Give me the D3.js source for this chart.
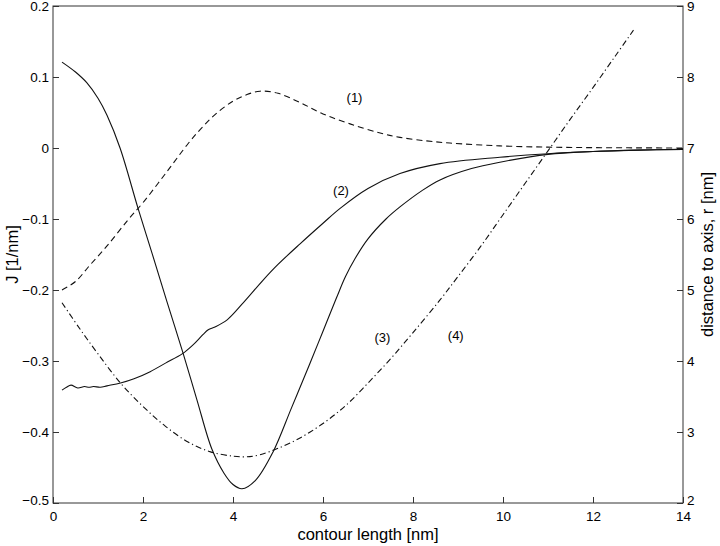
<!DOCTYPE html>
<html>
<head>
<meta charset="utf-8">
<script src="https://cdn.jsdelivr.net/npm/d3@7"></script>
<style>
  body { margin: 0; background: #fff; }
  text { font-family: "Liberation Sans", Arial, Helvetica, sans-serif; fill: #000; }
</style>
</head>
<body>
<div id="container"></div>
<script>
// Datos

const curve1X = [0.2, 0.5, 0.82, 1.2, 1.67, 2.0, 2.5, 3.0, 3.3, 3.6, 4.0, 4.3, 4.6, 5.0, 5.49, 6.0, 6.6, 7.27, 7.71, 8.3, 8.82, 9.93, 11, 12, 13, 14];
const curve1J = [-0.200, -0.188, -0.165, -0.138, -0.101, -0.077, -0.036, 0.006, 0.028, 0.047, 0.066, 0.075, 0.080, 0.077, 0.064, 0.048, 0.034, 0.021, 0.015, 0.010, 0.007, 0.003, 0.0012, 0.0005, 0.0002, 0];

const curve2X = [0.2, 0.3, 0.4, 0.55, 0.7, 0.8, 0.9, 1.05, 1.2, 1.5, 1.8, 2.16, 2.5, 2.87, 3.1, 3.33, 3.45, 3.6, 3.87, 4.2, 4.67, 5.0, 5.49, 6.0, 6.38, 7.0, 7.71, 8.6, 9.93, 11, 12, 13, 14];
const curve2J = [-0.341, -0.337, -0.334, -0.338, -0.336, -0.337, -0.336, -0.337, -0.335, -0.331, -0.325, -0.315, -0.303, -0.290, -0.278, -0.263, -0.256, -0.252, -0.242, -0.220, -0.186, -0.164, -0.135, -0.106, -0.085, -0.057, -0.036, -0.022, -0.013, -0.008, -0.005, -0.003, -0.002];

const curve3X = [0.2, 0.5, 0.75, 1.0, 1.2, 1.49, 1.89, 2.2, 2.53, 2.89, 3.2, 3.53, 3.8, 4.0, 4.2, 4.5, 4.89, 5.3, 5.7, 6.0, 6.3, 6.5, 6.71, 7.0, 7.4, 7.71, 8.2, 8.6, 9.3, 9.93, 11, 12, 13, 14];
const curve3J = [0.121, 0.107, 0.092, 0.070, 0.046, 0.0, -0.085, -0.148, -0.216, -0.289, -0.355, -0.424, -0.458, -0.474, -0.480, -0.468, -0.428, -0.366, -0.305, -0.258, -0.211, -0.181, -0.156, -0.128, -0.100, -0.083, -0.060, -0.045, -0.029, -0.020, -0.009, -0.005, -0.003, -0.002];

const curve4X = [0.2, 0.6, 1.0, 1.5, 2.0, 2.5, 3.0, 3.5, 4.0, 4.3, 4.6, 5.0, 5.5, 6.0, 6.5, 7.0, 7.5, 8.0, 8.6, 9.0, 9.5, 10.0, 10.5, 11.0, 11.5, 12.0, 12.5, 12.9];
const curve4R = [4.82, 4.45, 4.10, 3.69, 3.36, 3.08, 2.86, 2.72, 2.66, 2.65, 2.68, 2.77, 2.92, 3.12, 3.37, 3.69, 4.03, 4.40, 4.86, 5.19, 5.61, 6.06, 6.51, 6.96, 7.41, 7.85, 8.30, 8.66];

const ticksX = [0, 2, 4, 6, 8, 10, 12, 14];
const ticksJ = [-0.5, -0.4, -0.3, -0.2, -0.1, 0, 0.1, 0.2];
const ticksR = [2, 3, 4, 5, 6, 7, 8, 9];

const curveLabels = ["(1)", "(2)", "(3)", "(4)"];
const labelX = [6.7, 6.4, 7.32, 8.95];
const labelJ = [0.07, -0.062, -0.268, -0.265];

// Constantes

const WIDTH = 720;
const HEIGHT = 546;

const MARGIN = {
    top: 6,
    bottom: 43,
    left: 53,
    right: 37,
};

const WIDTH_VIS = WIDTH - MARGIN.left - MARGIN.right;
const HEIGHT_VIS = HEIGHT - MARGIN.top - MARGIN.bottom;
const TICK = 6;

const svg = d3.select("#container")
    .append("svg")
    .attr("width", WIDTH)
    .attr("height", HEIGHT);

const xScale = d3.scaleLinear().domain([0, 14]).range([MARGIN.left, MARGIN.left + WIDTH_VIS]);
const yScaleJ = d3.scaleLinear().domain([-0.5, 0.2]).range([MARGIN.top + HEIGHT_VIS, MARGIN.top]);
const yScaleR = d3.scaleLinear().domain([2, 9]).range([MARGIN.top + HEIGHT_VIS, MARGIN.top]);

const fmt = d => (d < 0 ? "\u2212" : "") + Math.abs(d);

// Ejes

const ejeX = d3.axisBottom(xScale)
    .tickValues(ticksX)
    .tickSizeInner(-TICK)
    .tickSizeOuter(0)
    .tickPadding(8)
    .tickFormat(fmt);

const ejeJ = d3.axisLeft(yScaleJ)
    .tickValues(ticksJ)
    .tickSizeInner(-TICK)
    .tickSizeOuter(0)
    .tickPadding(4)
    .tickFormat(fmt);

const ejeR = d3.axisRight(yScaleR)
    .tickValues(ticksR)
    .tickSizeInner(-TICK)
    .tickSizeOuter(0)
    .tickPadding(4)
    .tickFormat(d => d);

const gX = svg.append("g")
    .attr("transform", `translate(0, ${MARGIN.top + HEIGHT_VIS})`)
    .call(ejeX);

const gJ = svg.append("g")
    .attr("transform", `translate(${MARGIN.left}, 0)`)
    .call(ejeJ);

const gR = svg.append("g")
    .attr("transform", `translate(${MARGIN.left + WIDTH_VIS}, 0)`)
    .call(ejeR);

[gX, gJ, gR].forEach(g => {
    g.selectAll("text")
        .attr("font-size", 13.5)
        .attr("font-family", "\"Liberation Sans\", Arial, sans-serif")
        .attr("fill", "#000");
    g.selectAll("line").attr("stroke", "#333");
    g.select(".domain").remove();
});

// etiquetas extremas un poco hacia arriba, como en la figura
gJ.selectAll("text").filter(d => d === -0.5).attr("dy", "0.1em");
gR.selectAll("text").filter(d => d === 2).attr("dy", "0.1em");

// Marco
svg.append("rect")
    .attr("x", MARGIN.left)
    .attr("y", MARGIN.top)
    .attr("width", WIDTH_VIS)
    .attr("height", HEIGHT_VIS)
    .attr("fill", "none")
    .attr("stroke", "#333")
    .attr("stroke-width", 1);

// Curvas

const lineaJ = d3.line()
    .x(d => xScale(d[0]))
    .y(d => yScaleJ(d[1]))
    .curve(d3.curveCatmullRom.alpha(0.5));

const lineaR = d3.line()
    .x(d => xScale(d[0]))
    .y(d => yScaleR(d[1]))
    .curve(d3.curveCatmullRom.alpha(0.5));

const series = [
    { datos: d3.zip(curve1X, curve1J), linea: lineaJ, dash: "6,4" },
    { datos: d3.zip(curve2X, curve2J), linea: lineaJ, dash: null },
    { datos: d3.zip(curve3X, curve3J), linea: lineaJ, dash: null },
    { datos: d3.zip(curve4X, curve4R), linea: lineaR, dash: "6,3,1.2,3" },
];

svg.selectAll(".curva")
    .data(series)
    .join("path")
    .attr("class", "curva")
    .attr("d", d => d.linea(d.datos))
    .attr("fill", "none")
    .attr("stroke", "#111")
    .attr("stroke-width", 1.1)
    .attr("stroke-dasharray", d => d.dash);

svg.selectAll(".etiqueta-curva")
    .data(curveLabels)
    .join("text")
    .attr("class", "etiqueta-curva")
    .attr("x", (d, i) => xScale(labelX[i]))
    .attr("y", (d, i) => yScaleJ(labelJ[i]))
    .attr("font-size", 13)
    .attr("text-anchor", "middle")
    .attr("dominant-baseline", "middle")
    .text(d => d);

// Titulos de ejes

svg.append("text")
    .text("contour length [nm]")
    .attr("x", MARGIN.left + WIDTH_VIS / 2)
    .attr("y", 540)
    .attr("font-size", 16.5)
    .attr("text-anchor", "middle");

svg.append("text")
    .text("J [1/nm]")
    .attr("transform", `translate(18, ${MARGIN.top + HEIGHT_VIS / 2}) rotate(-90)`)
    .attr("font-size", 16.5)
    .attr("text-anchor", "middle");

svg.append("text")
    .text("distance to axis, r [nm]")
    .attr("transform", `translate(713, ${MARGIN.top + HEIGHT_VIS / 2}) rotate(-90)`)
    .attr("font-size", 16.5)
    .attr("text-anchor", "middle");
</script>
</body>
</html>
